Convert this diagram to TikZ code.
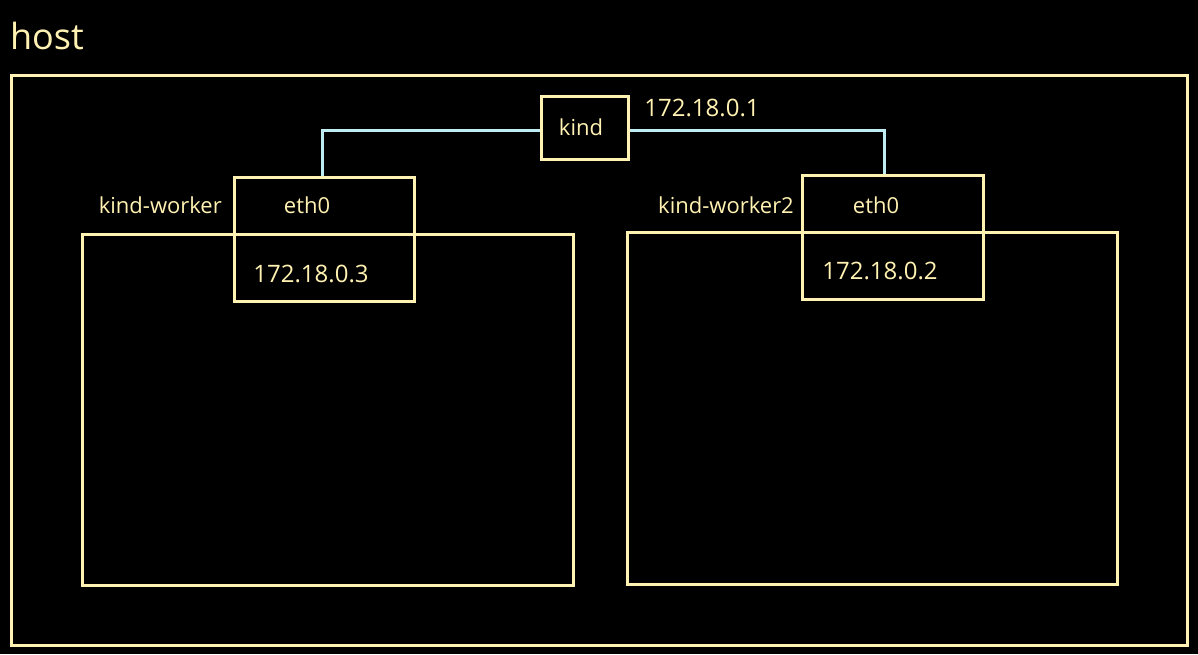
\documentclass[tikz,border=0pt]{standalone}
\usepackage{fontspec}
\setmainfont{Open Sans}
\definecolor{cream}{RGB}{255,242,178}
\definecolor{wire}{RGB}{190,236,242}
\begin{document}
\begin{tikzpicture}[x=1pt,y=-1pt,
  box/.style={draw=cream,line width=3pt},
  lbl/.style={text=cream,font=\fontsize{22}{26}\selectfont,inner sep=0pt},
  iplbl/.style={lbl,font=\fontsize{24}{28}\selectfont},
  link/.style={draw=wire,line width=3pt}]
\fill[black] (0,0) rectangle (1198,654);
\useasboundingbox (0,0) rectangle (1198,654);
% host
\draw[box] (11,75) rectangle (1187,645);
\node[lbl,font=\fontsize{36}{40}\selectfont] (hostlbl) at (47,36) {host};
% workers
\draw[box] (82,234) rectangle (573,585);
\draw[box] (627,232) rectangle (1117,584);
\node[lbl,anchor=east] (w1lbl) at (222,205) {kind-worker};
\node[lbl,anchor=east] (w2lbl) at (794,205) {kind-worker2};
% eth boxes
\node[box,minimum width=180pt,minimum height=124pt,inner sep=0pt] (eth1) at (324,239) {};
\node[box,minimum width=181pt,minimum height=124pt,inner sep=0pt] (eth2) at (892.5,237) {};
\node[lbl] (eth1lbl) at (307,205) {eth0};
\node[lbl] (eth2lbl) at (876,205) {eth0};
\node[iplbl] (ip3) at (311,274) {172.18.0.3};
\node[iplbl] (ip2) at (880,271) {172.18.0.2};
% kind bridge
\node[box,minimum width=87pt,minimum height=63pt,inner sep=0pt] (kind) at (584.5,127.5) {};
\node[lbl] (kindlbl) at (581,127) {kind};
\node[iplbl] (ip1) at (702,108) {172.18.0.1};
% links
\coordinate (c1) at (322,130);
\coordinate (c2) at (884,130);
\draw[link] (kind.west |- c1) -- (c1) -- (c1 |- eth1.north);
\draw[link] (kind.east |- c2) -- (c2) -- (c2 |- eth2.north);
\end{tikzpicture}
\end{document}
